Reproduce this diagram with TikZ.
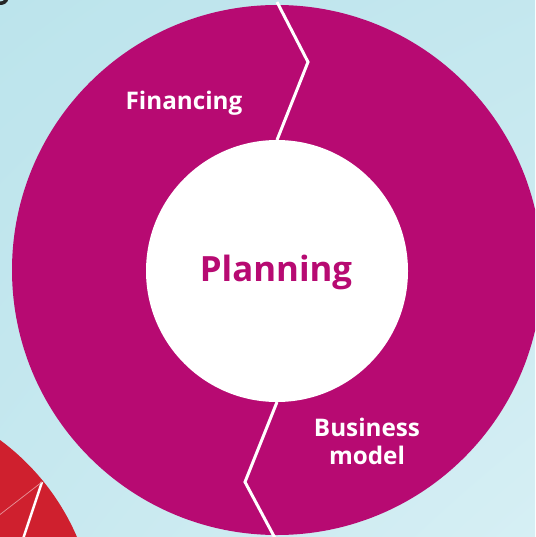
\documentclass[tikz,border=0pt]{standalone}
\usepackage{fontspec}
\setmainfont{Open Sans}
\usetikzlibrary{shadings}
\definecolor{ringmag}{HTML}{B70A72}
\definecolor{bgtop}{HTML}{BCE4EC}
\definecolor{bgbot}{HTML}{D6EFF4}
\definecolor{slicered}{HTML}{CF202E}
\tikzset{
  ringlabel/.style={text=white, font=\bfseries\fontsize{13.8}{16}\selectfont, align=center, inner sep=0pt},
  centerlabel/.style={text=ringmag, font=\bfseries\fontsize{19.8}{22}\selectfont, inner sep=0pt},
  divider/.style={draw=white, line width=0.06cm, line join=miter}
}
\begin{document}
\begin{tikzpicture}[x=0.02cm, y=-0.02cm]
  \useasboundingbox (0,0) rectangle (535,537);
  \clip (0,0) rectangle (535,537);
  % background
  \shade[upper left=bgtop, upper right=bgtop!70!bgbot, lower left=bgtop!60!bgbot, lower right=bgbot] (0,0) rectangle (535,537);
  % neighbouring slice, bottom left
  \fill[slicered] (-140,630) circle (236);
  \draw[white, line width=0.05cm] (42,482) -- (16,560);
  \draw[white!50!slicered, line width=0.015cm] (42,482) -- (-20,530);
  % black mark, top left
  \draw[black!85, line width=0.07cm] (-2,3) .. controls (3,4) and (6,2) .. (7,-2);
  % ring
  \fill[ringmag] (277,270) circle (265);
  \fill[white] (277,271) circle (131);
  \draw[divider] (277,140) -- (308,62) -- (277,2);
  \draw[divider] (277,402) -- (245,482) -- (276,540);
  % labels
  \node[ringlabel] (financing) at (184,103) {Financing};
  \node[centerlabel] (planning) at (276,272) {Planning};
  \node[ringlabel] (business) at (367,441) {Business\\model};
\end{tikzpicture}
\end{document}
